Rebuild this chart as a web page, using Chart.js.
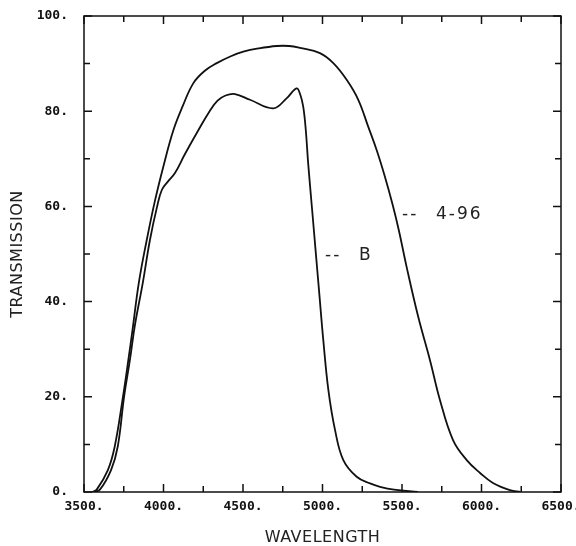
<!DOCTYPE html>
<html>
<head>
<meta charset="utf-8">
<script src="https://cdn.jsdelivr.net/npm/chart.js@4/dist/chart.umd.min.js"></script>
<style>
html,body{margin:0;padding:0;background:#fff;}
#wrap{width:576px;height:546px;position:relative;}
</style>
</head>
<body>
<div id="wrap"><canvas id="c"></canvas></div>
<script>
// Filter 4-96 transmission curve
const wl496 = [3550,3580,3650,3693,3745,3780,3805,3845,3895,3945,4000,4062,4120,4188,4260,4335,4420,4502,4600,4712,4790,4858,4984,5068,5152,5225,5288,5341,5393,5440,5480,5529,5602,5676,5739,5821,5907,5991,6072,6179,6245];
const tr496 = [0,0.5,4.6,9.5,20,28,34,44,53,61,68.5,76,81,85.9,88.5,90.1,91.5,92.5,93.2,93.7,93.7,93.3,92.2,90.1,86.6,82.4,76.7,71.8,66.2,60.5,55,47.3,36.8,27.7,19.3,10.9,6.7,4,1.9,0.4,0];
// Filter B transmission curve
const wlB = [3560,3600,3670,3712,3752,3790,3820,3870,3915,3960,3990,4030,4072,4135,4219,4290,4340,4390,4450,4544,4690,4774,4837,4860,4879,4895,4910,4935,4960,4978,5005,5037,5079,5131,5215,5299,5362,5450,5600];
const trB = [0,0.5,4.6,9.5,20,28,35,44,53,60,63.5,65.3,67,71,76,80,82.2,83.3,83.6,82.4,80.6,82.7,84.8,83.5,80.9,76,69,59.2,49.4,42.4,31.9,21.4,13,6.7,3.2,1.8,1.1,0.5,0];
// Curve labels: text and anchor (wavelength, transmission)
const labelTexts = ['B', '4-96'];
const labelWl = [5016, 5500];
const labelTr = [49.6, 58.2];
const xTitle = 'WAVELENGTH';
const yTitle = 'TRANSMISSION';

const toPts = (xs, ys) => xs.map((x, i) => ({x: x, y: ys[i]}));

const framePlugin = {
  id: 'frame',
  afterDraw(chart) {
    const ctx = chart.ctx, a = chart.chartArea;
    const xs = chart.scales.x, ys = chart.scales.y;
    ctx.save();
    ctx.strokeStyle = '#111';
    ctx.lineWidth = 1.5;
    ctx.strokeRect(a.left, a.top, a.right - a.left, a.bottom - a.top);
    ctx.beginPath();
    for (let v = xs.min; v <= xs.max + 0.1; v += 250) {
      const len = (Math.round(v) % 500 === 0) ? 8 : 6;
      const px = xs.getPixelForValue(v);
      ctx.moveTo(px, a.bottom); ctx.lineTo(px, a.bottom - len);
      ctx.moveTo(px, a.top); ctx.lineTo(px, a.top + len);
    }
    for (let v = ys.min; v <= ys.max + 0.1; v += 10) {
      const len = (Math.round(v) % 20 === 0) ? 8 : 6;
      const py = ys.getPixelForValue(v);
      ctx.moveTo(a.left, py); ctx.lineTo(a.left + len, py);
      ctx.moveTo(a.right, py); ctx.lineTo(a.right - len, py);
    }
    ctx.stroke();

    // axis titles
    ctx.fillStyle = '#222';
    ctx.font = '16px "DejaVu Sans"';
    ctx.textAlign = 'center';
    ctx.textBaseline = 'middle';
    try { ctx.letterSpacing = '0.5px'; } catch (e) {}
    ctx.fillText(xTitle, (a.left + a.right) / 2, 538);
    ctx.save();
    ctx.translate(18, (a.top + a.bottom) / 2);
    ctx.rotate(-Math.PI / 2);
    ctx.fillText(yTitle, 0, 0);
    ctx.restore();

    // curve labels
    ctx.font = '17px "DejaVu Sans"';
    ctx.textAlign = 'left';
    try { ctx.letterSpacing = '2px'; } catch (e) {}
    for (let i = 0; i < labelTexts.length; i++) {
      const px = xs.getPixelForValue(labelWl[i]);
      const py = ys.getPixelForValue(labelTr[i]);
      ctx.fillText('--', px, py);
      ctx.fillText(labelTexts[i], px + 34, py);
    }
    ctx.restore();
  }
};

const lineStyle = {
  borderColor: '#111',
  borderWidth: 1.8,
  pointRadius: 0,
  showLine: true,
  fill: false,
  tension: 0.4
};

new Chart(document.getElementById('c'), {
  type: 'scatter',
  data: {
    datasets: [
      Object.assign({label: '4-96', data: toPts(wl496, tr496)}, lineStyle),
      Object.assign({label: 'B', data: toPts(wlB, trB)}, lineStyle)
    ]
  },
  options: {
    responsive: true,
    maintainAspectRatio: false,
    animation: false,
    layout: {padding: {left: 0, right: 15, top: 16, bottom: 0}},
    plugins: {legend: {display: false}, tooltip: {enabled: false}},
    scales: {
      x: {
        type: 'linear', min: 3500, max: 6500,
        grid: {display: false, drawTicks: false, drawOnChartArea: false},
        border: {display: false},
        ticks: {
          stepSize: 500, padding: 7, color: '#111', maxRotation: 0, autoSkip: false,
          font: {family: '"DejaVu Sans Mono"', size: 13, weight: 'bold'},
          callback: v => v.toFixed(0) + '.'
        },
        afterFit(s) { s.height = 54; s.paddingLeft = 0; s.paddingRight = 0; }
      },
      y: {
        type: 'linear', min: 0, max: 100,
        grid: {display: false, drawTicks: false, drawOnChartArea: false},
        border: {display: false},
        ticks: {
          stepSize: 20, padding: 16, color: '#111',
          font: {family: '"DejaVu Sans Mono"', size: 13, weight: 'bold'},
          callback: v => v.toFixed(0) + '.'
        },
        afterFit(s) { s.width = 84; s.paddingTop = 0; s.paddingBottom = 0; }
      }
    }
  },
  plugins: [framePlugin]
});
</script>
</body>
</html>
